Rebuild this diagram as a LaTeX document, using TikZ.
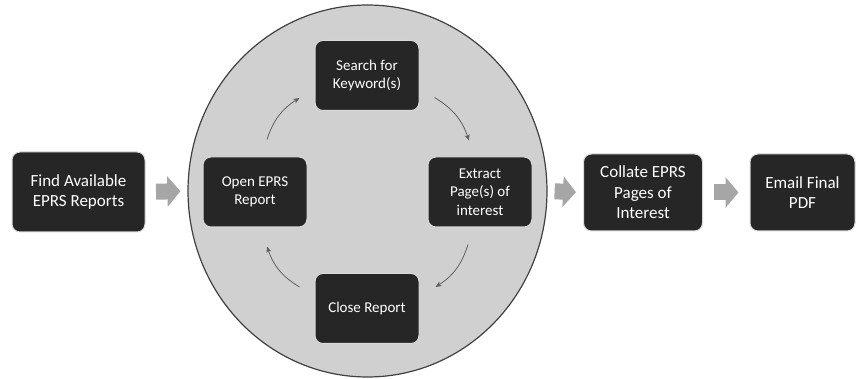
\documentclass[tikz,border=0pt]{standalone}
\usepackage{fontspec}
\setmainfont{Carlito}
\usetikzlibrary{arrows.meta,calc,shapes.geometric}
\definecolor{boxfill}{HTML}{262626}
\definecolor{boxline}{HTML}{D9D9D9}
\definecolor{circfill}{HTML}{D0D0D0}
\definecolor{circline}{HTML}{404040}
\definecolor{bigarrow}{HTML}{A6A6A6}
\definecolor{cycarrow}{HTML}{606060}
\begin{document}
\begin{tikzpicture}[x=1pt,y=-1pt,
  darkbox/.style={draw=boxline, line width=1pt, fill=boxfill, rounded corners=8pt,
    text=white, align=center, inner sep=0pt},
  outerbox/.style={darkbox, font=\fontsize{17}{20.5}\selectfont},
  innerbox/.style={darkbox, minimum width=104pt, minimum height=70pt,
    font=\fontsize{15}{18.3}\selectfont},
  blockarrow/.style={draw=bigarrow, line width=16pt,
    -{Triangle[width=30pt,length=13pt,fill=bigarrow]}},
  cyc/.style={draw=cycarrow, line width=0.8pt, -{Stealth[length=6pt,width=5pt,inset=1.5pt]}}]
\useasboundingbox (0,0) rectangle (857,379);

\node[ellipse, draw=circline, line width=1.2pt, fill=circfill,
  minimum width=359pt, minimum height=372pt, inner sep=0pt] (circ) at (367.5,191) {};

\node[outerbox, minimum width=133pt, minimum height=80pt] (find) at (78.5,192) {Find Available\\EPRS Reports};
\node[outerbox, minimum width=119pt, minimum height=77pt] (collate) at (643,192.5) {Collate EPRS\\Pages of\\Interest};
\node[outerbox, minimum width=105pt, minimum height=77pt] (email) at (802.5,192.5) {Email Final\\PDF};

\node[innerbox] (search) at (367,75.5) {Search for\\Keyword(s)};
\node[innerbox] (extract) at (480,192) {Extract\\Page(s) of\\interest};
\node[innerbox] (close) at (367,308.5) {Close Report};
\node[innerbox] (open) at (255,192) {Open EPRS\\Report};

\draw[blockarrow, shorten <=10.5pt, shorten >=7pt] (find.east) -- (circ.west);
\draw[blockarrow, shorten <=7pt, shorten >=7pt] (circ.east) -- (collate.west);
\draw[blockarrow, shorten <=11pt, shorten >=11pt] (collate.east) -- (email.west);

\draw[cyc] ($(search.east)+(15,22)$) to[bend left=20] ($(extract.north)+(-11,-16)$);
\draw[cyc] ($(extract.south)+(-12,17)$) to[bend left=20] ($(close.east)+(16,-21.5)$);
\draw[cyc] ($(close.west)+(-15,-21.5)$) to[bend left=20] ($(open.south)+(12,19)$);
\draw[cyc] ($(open.north)+(12,-17)$) to[bend left=20] ($(search.west)+(-15,22.5)$);
\end{tikzpicture}
\end{document}
